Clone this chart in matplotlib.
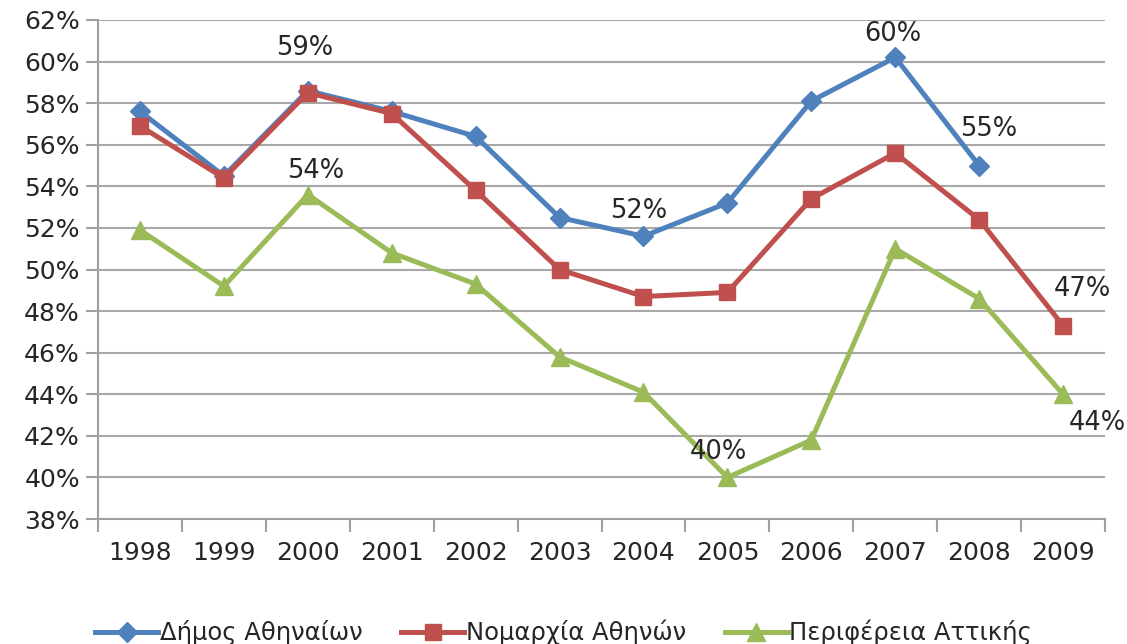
import matplotlib.pyplot as plt
import numpy as np

years = ['1998', '1999', '2000', '2001', '2002', '2003', '2004', '2005', '2006', '2007', '2008', '2009']
dimos = [57.6, 54.5, 58.6, 57.6, 56.4, 52.5, 51.6, 53.2, 58.1, 60.2, 55.0, np.nan]
nomarxia = [56.9, 54.4, 58.5, 57.5, 53.8, 50.0, 48.7, 48.9, 53.4, 55.6, 52.4, 47.3]
perifereia = [51.9, 49.2, 53.6, 50.8, 49.3, 45.8, 44.1, 40.0, 41.8, 51.0, 48.6, 44.0]
names = ['Δήμος Αθηναίων', 'Νομαρχία Αθηνών', 'Περιφέρεια Αττικής']

# data labels: (series, year index, text, dx px, dy px)
labels = [
    (0, 2, '59%', -3, 43),
    (2, 2, '54%', 8, 24),
    (0, 6, '52%', -5, 25),
    (2, 7, '40%', -9, 25),
    (0, 9, '60%', -2, 23),
    (0, 10, '55%', 9, 37),
    (1, 11, '47%', 19, 37),
    (2, 11, '44%', 34, -29),
]

plt.rcParams['font.family'] = ['DejaVu Sans']
fig = plt.figure(figsize=(11.27, 6.44), dpi=100)
ax = fig.add_axes([0.087, 0.194, 0.8935, 0.775])

x = np.arange(len(years))
series = [dimos, nomarxia, perifereia]
colors = ['#4F81BD', '#C0504D', '#9BBB59']
markers = ['D', 's', '^']
msizes = [10, 11.5, 13]
for s, c, m, ms, n in zip(series, colors, markers, msizes, names):
    ax.plot(x, s, color=c, lw=3.6, marker=m, ms=ms, label=n, zorder=3)

for si, i, t, dx, dy in labels:
    ax.annotate(t, (x[i], series[si][i]), xytext=(dx, dy), textcoords='offset pixels',
                ha='center', va='center', fontsize=18.5, color='#262626')

ax.set_xlim(-0.5, len(years) - 0.5)
ax.set_ylim(38, 62)
ax.set_yticks(np.arange(38, 63, 2))
ax.set_yticklabels(['%d%%' % v for v in range(38, 63, 2)])
ax.set_xticks(x)
ax.set_xticklabels(years)
ax.set_xticks(np.arange(-0.5, len(years), 1), minor=True)
ax.tick_params(axis='x', which='major', length=0, pad=16, labelsize=18, labelcolor='#262626')
ax.tick_params(axis='x', which='minor', length=9, width=1.5, color='#a0a0a0')
ax.tick_params(axis='y', length=9, width=1.5, color='#a0a0a0', labelsize=18, pad=4,
               labelcolor='#262626')
ax.grid(axis='y', color='#a8a8a8', lw=1.5)
ax.set_axisbelow(True)
for sp in ['top', 'right']:
    ax.spines[sp].set_visible(False)
for sp in ['left', 'bottom']:
    ax.spines[sp].set_color('#a0a0a0')
    ax.spines[sp].set_linewidth(1.5)

fig.legend(loc='center', bbox_to_anchor=(0.5, 0.018), ncol=3, frameon=False,
           fontsize=17.5, handlelength=2.6, columnspacing=1.6, handletextpad=0.05,
           labelcolor='#262626')

plt.savefig('out.png', dpi=100)
